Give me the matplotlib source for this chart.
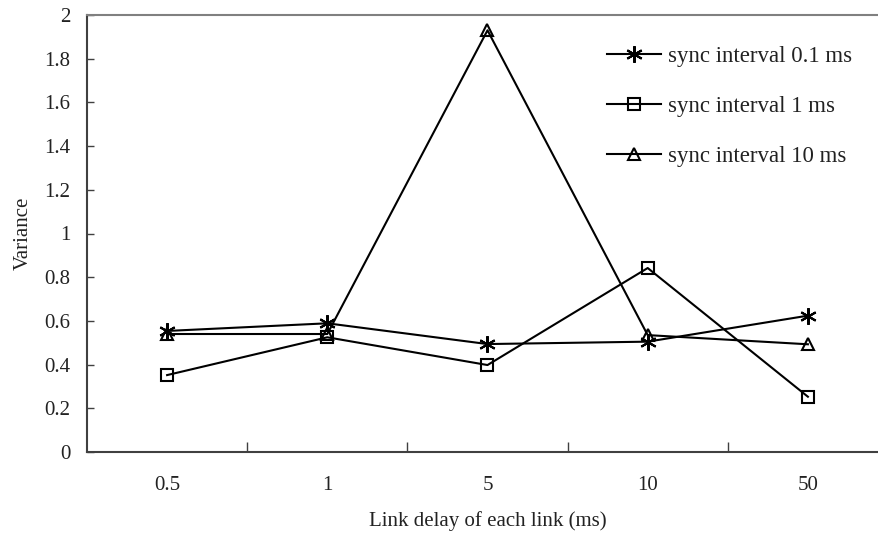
import matplotlib
matplotlib.use("Agg")
import matplotlib.pyplot as plt
from matplotlib.ticker import FixedLocator, NullFormatter

# Data
delays = ["0.5", "1", "5", "10", "50"]
var_01ms = [0.554, 0.589, 0.494, 0.505, 0.624]
var_1ms = [0.352, 0.525, 0.398, 0.842, 0.253]
var_10ms = [0.540, 0.540, 1.930, 0.535, 0.493]
series_labels = ["sync interval 0.1 ms", "sync interval 1 ms", "sync interval 10 ms"]
y_ticks = [0, 0.2, 0.4, 0.6, 0.8, 1, 1.2, 1.4, 1.6, 1.8, 2]

plt.rcParams["font.family"] = ["Liberation Serif", "DejaVu Serif"]
text_color = "#222222"
fs = 15
leg_fs = 16.5

W, H = 879, 533
fig = plt.figure(figsize=(W / 100, H / 100), dpi=100)
ax = fig.add_axes([87 / W, (H - 452) / H, 801 / W, (452 - 15) / H])

x = list(range(len(delays)))
ax.plot(x, var_01ms, color="black", lw=1.5, marker=(6, 2, 0), ms=12, mew=1.5,
        label=series_labels[0])
ax.plot(x, var_1ms, color="black", lw=1.5, marker="s", ms=8, mfc="none", mew=1.5,
        label=series_labels[1])
ax.plot(x, var_10ms, color="black", lw=1.5, marker="^", ms=9, mfc="none", mew=1.5,
        label=series_labels[2])

ax.set_xlim(-0.5, len(delays) - 0.5)
ax.set_ylim(0, 2)
ax.set_xticks(x)
ax.set_xticklabels(delays)
ax.xaxis.set_minor_locator(FixedLocator([i + 0.5 for i in range(len(delays) - 1)]))
ax.xaxis.set_minor_formatter(NullFormatter())
ax.tick_params(axis="x", which="major", length=0, pad=17, labelsize=fs, labelcolor=text_color)
ax.tick_params(axis="x", which="minor", direction="in", length=7, width=1, color="#404040")
ax.set_yticks(y_ticks)
ax.set_yticklabels([f"{v:g}" for v in y_ticks])
ax.tick_params(axis="y", direction="in", length=5, width=1, color="#404040",
               pad=12, labelsize=fs, labelcolor=text_color)

ax.spines["right"].set_visible(False)
ax.spines["top"].set_color("#808080")
ax.spines["top"].set_linewidth(1.5)
ax.spines["bottom"].set_color("#404040")
ax.spines["bottom"].set_linewidth(1.5)
ax.spines["left"].set_color("#404040")
ax.spines["left"].set_linewidth(1.5)

ax.set_xlabel("Link delay of each link (ms)", fontsize=fs, color=text_color, labelpad=12)
ax.set_ylabel("Variance", fontsize=fs, color=text_color, labelpad=8)

leg = ax.legend(loc="upper left", bbox_to_anchor=(607 / W, 1 - 46 / H),
                bbox_transform=fig.transFigure,
                frameon=False, fontsize=leg_fs, handlelength=2.36, handletextpad=0.3,
                labelspacing=1.27, borderaxespad=0, borderpad=0)
for t in leg.get_texts():
    t.set_color(text_color)

fig.savefig("out.png", dpi=100)
